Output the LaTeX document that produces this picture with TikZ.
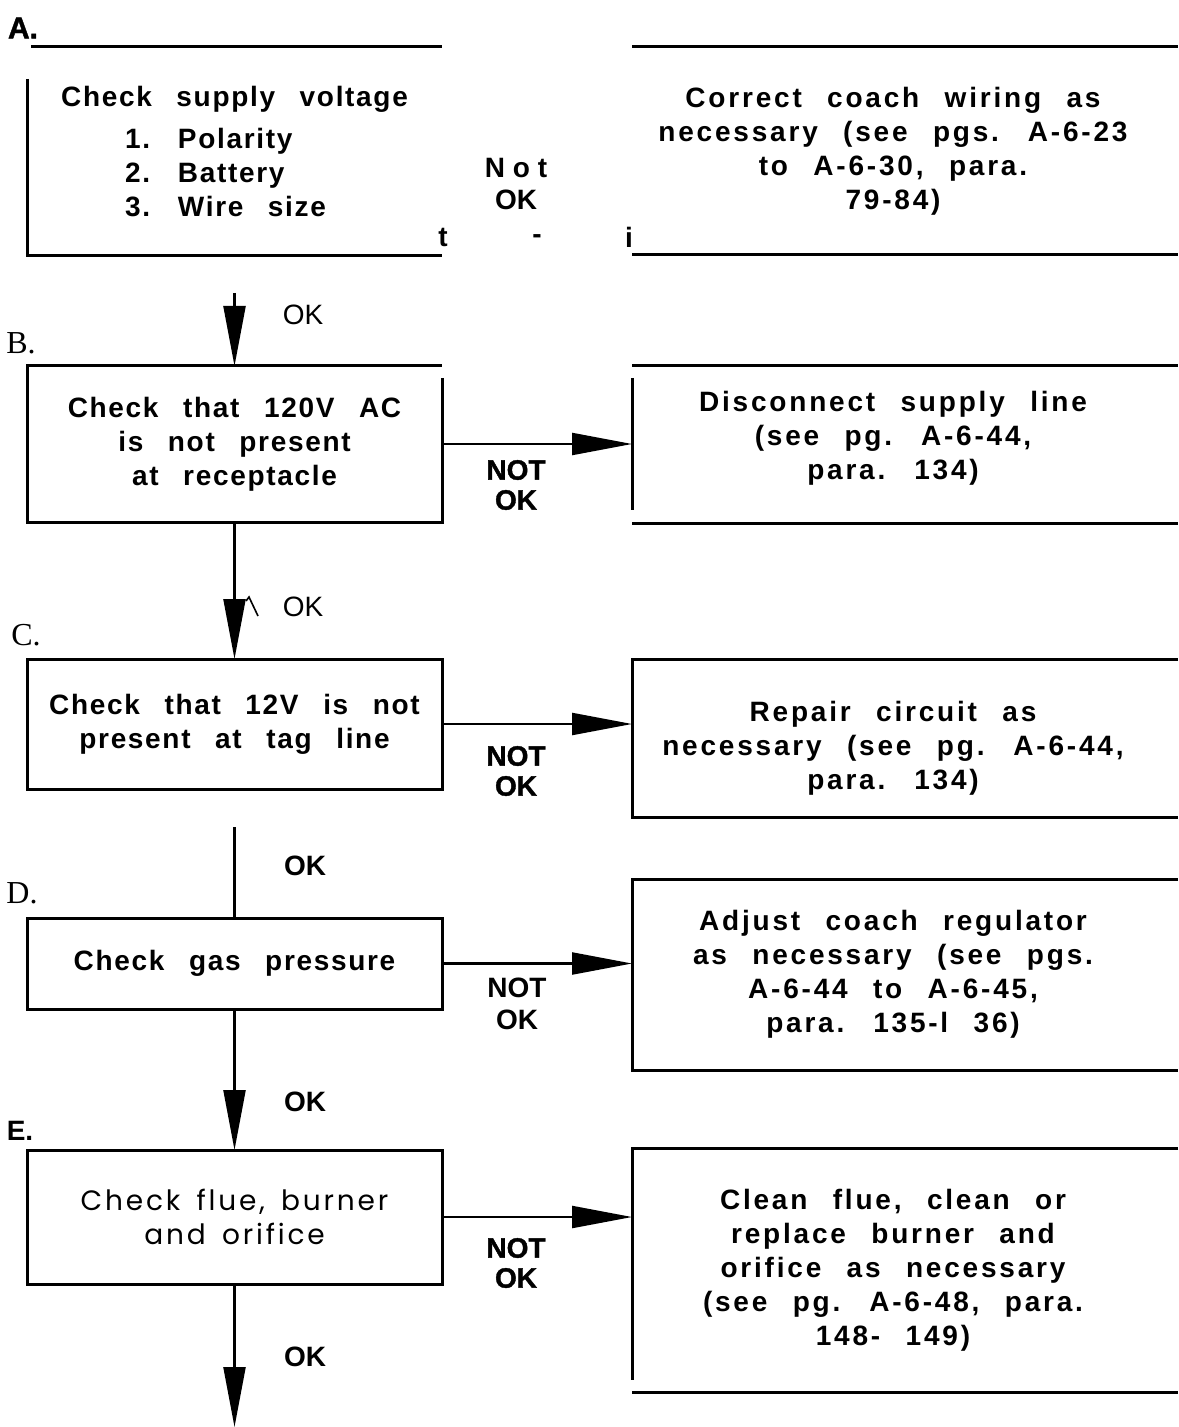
\documentclass[tikz,border=0pt]{standalone}
\usepackage{fontspec}
\setmainfont{Liberation Sans}
\newfontfamily\boxfont{Liberation Sans}[LetterSpace=6,WordSpace=2.6]
\newfontfamily\notefont{Liberation Sans}[LetterSpace=10,WordSpace=2.4]
\newfontfamily\roundfont{Poppins}[LetterSpace=10,WordSpace=1.6]
\newfontfamily\heavyfont{Liberation Sans}[BoldFeatures={FakeBold=1.4}]
\newfontfamily\serfont{Liberation Serif}
\usetikzlibrary{arrows.meta,calc}

\begin{document}
\begin{tikzpicture}[x=0.5pt,y=-0.5pt,
  every node/.style={inner sep=0pt,outer sep=0pt},
  box/.style={rectangle,minimum width=207.5pt,align=center,
    font=\boxfont\bfseries\fontsize{14pt}{17pt}\selectfont},
  note/.style={rectangle,minimum width=261pt,align=center,
    font=\notefont\bfseries\fontsize{14pt}{17pt}\selectfont},
  edge/.style={line width=1.5pt},
  flow/.style={line width=1.1pt,-{Triangle[length=30pt,width=11pt]}},
  notok/.style={align=center,font=\heavyfont\bfseries\fontsize{14pt}{15pt}\selectfont},
  ok/.style={font=\fontsize{14pt}{15pt}\selectfont},
  okb/.style={font=\bfseries\fontsize{14pt}{15pt}\selectfont},
  steplabel/.style={font=\serfont\fontsize{16pt}{16pt}\selectfont},
  stepbold/.style={font=\heavyfont\bfseries\fontsize{15pt}{15pt}\selectfont}]
  \useasboundingbox (0,0) rectangle (1178,1427);
  \coordinate (edge) at (1178,0);

  % A: supply voltage
  \node[stepbold] (lA) at (23,28) {A.};
  \node[box,minimum height=104.5pt,align=left] (bA) at (234.5,151.5)
    {Check supply voltage\\[4pt]\hspace*{32pt}1. Polarity\\\hspace*{32pt}2. Battery\\\hspace*{32pt}3. Wire size};
  \node[note,minimum height=104pt] (rA) at (893,151)
    {Correct coach wiring as\\necessary (see pgs. A-6-23\\to A-6-30, para.\\79-84)};
  \draw[edge] ([xshift=2pt]bA.north west) -- (bA.north east);
  \draw[edge] ([yshift=-16pt]bA.north west) -- (bA.south west) -- (bA.south east);
  \draw[edge] (rA.north west) -- (rA.north west -| edge);
  \draw[edge] (rA.south west) -- (rA.south west -| edge);
  \node[okb,align=center,font=\bfseries\fontsize{14pt}{16pt}\selectfont] (nA) at (516,184) {N o t\\OK};
  \node[okb] (tA) at (443,237) {t};
  \node[okb] (dA) at (537,239) {-};
  \node[okb] (iA) at (629,237) {i};

  % B: 120V AC
  \coordinate (sB) at (234.5,293);
  \node[steplabel] (lB) at (21,343) {B.};
  \node[box,minimum height=78pt] (bB) at (234.5,444)
    {Check that 120V AC\\is not present\\at receptacle};
  \node[note,minimum height=78.5pt] (rB) at (893,438)
    {Disconnect supply line\\(see pg. A-6-44,\\para. 134)};
  \draw[edge] ([yshift=-6pt]bB.north east) -- (bB.south east) -- (bB.south west)
    -- (bB.north west) -- (bB.north east);
  \begin{scope}[transform canvas={yshift=-3.25pt}]
    \draw[edge] (rB.north west) -- (rB.north west -| edge);
    \draw[edge] ([yshift=-6pt]rB.north west) -- ([yshift=6.5pt]rB.south west);
    \draw[edge] (rB.south west) -- (rB.south west -| edge);
  \end{scope}
  \draw[flow] (sB) -- (bB.north);
  \node[ok] (okB) at (303,315) {OK};
  \draw[flow] (bB.east) -- (bB.east -| rB.west);
  \node[notok] (nB) at (516,485) {NOT\\OK};

  % C: 12V tag line
  \node[steplabel] (lC) at (26,635) {C.};
  \node[box,minimum height=65pt] (bC) at (234.5,724)
    {Check that 12V is not\\present at tag line};
  \node[note,minimum height=79pt] (rC) at (893,748)
    {Repair circuit as\\necessary (see pg. A-6-44,\\para. 134)};
  \draw[edge] (bC.north west) rectangle (bC.south east);
  \draw[edge,transform canvas={yshift=5pt}] (rC.north west -| edge) -- (rC.north west)
    -- (rC.south west) -- (rC.south west -| edge);
  \draw[flow] (bB.south) -- (bC.north);
  \draw[line width=0.8pt] (246,601) -- (249,597) -- (258,616);
  \node[ok] (okC) at (303,607) {OK};
  \draw[flow] (bC.east) -- (bC.east -| rC.west);
  \node[notok] (nC) at (516,771) {NOT\\OK};

  % D: gas pressure
  \coordinate (sD) at (234.5,827);
  \node[steplabel] (lD) at (22,893) {D.};
  \node[box,minimum height=45.5pt] (bD) at (234.5,963.5) {Check gas pressure};
  \node[note,minimum height=95.5pt] (rD) at (893,974.5)
    {Adjust coach regulator\\as necessary (see pgs.\\A-6-44 to A-6-45,\\para. 135-l 36)};
  \draw[edge] (bD.north west) rectangle (bD.south east);
  \draw[edge] (rD.north west -| edge) -- (rD.north west) -- (rD.south west) -- (rD.south west -| edge);
  \draw[line width=1.1pt] (sD) -- (bD.north);
  \node[okb] (okD) at (305,866) {OK};
  \draw[flow] (bD.east) -- (bD.east -| rD.west);
  \node[okb,align=center,font=\bfseries\fontsize{14pt}{16pt}\selectfont] (nD) at (517,1004) {NOT\\OK};

  % E: flue, burner, orifice
  \coordinate (endE) at (234.5,1427);
  \node[stepbold,font=\bfseries\fontsize{14pt}{14pt}\selectfont] (lE) at (20,1131) {E.};
  \node[box,minimum height=67pt,font=\roundfont\fontsize{14pt}{17pt}\selectfont] (bE) at (234.5,1217)
    {Check flue, burner\\and orifice};
  \node[note,minimum height=122pt] (rE) at (893,1270)
    {Clean flue, clean or\\replace burner and\\orifice as necessary\\(see pg. A-6-48, para.\\148- 149)};
  \draw[edge] (bE.north west) rectangle (bE.south east);
  \draw[edge] (rE.north west -| edge) -- (rE.north west) -- ([yshift=6pt]rE.south west);
  \draw[edge] (rE.south west) -- (rE.south west -| edge);
  \draw[flow] (bD.south) -- (bE.north);
  \node[okb] (okE) at (305,1102) {OK};
  \draw[flow] (bE.east) -- (bE.east -| rE.west);
  \node[notok] (nE) at (516,1263) {NOT\\OK};
  \draw[flow] (bE.south) -- (endE);
  \node[okb] (okF) at (305,1357) {OK};
\end{tikzpicture}
\end{document}
